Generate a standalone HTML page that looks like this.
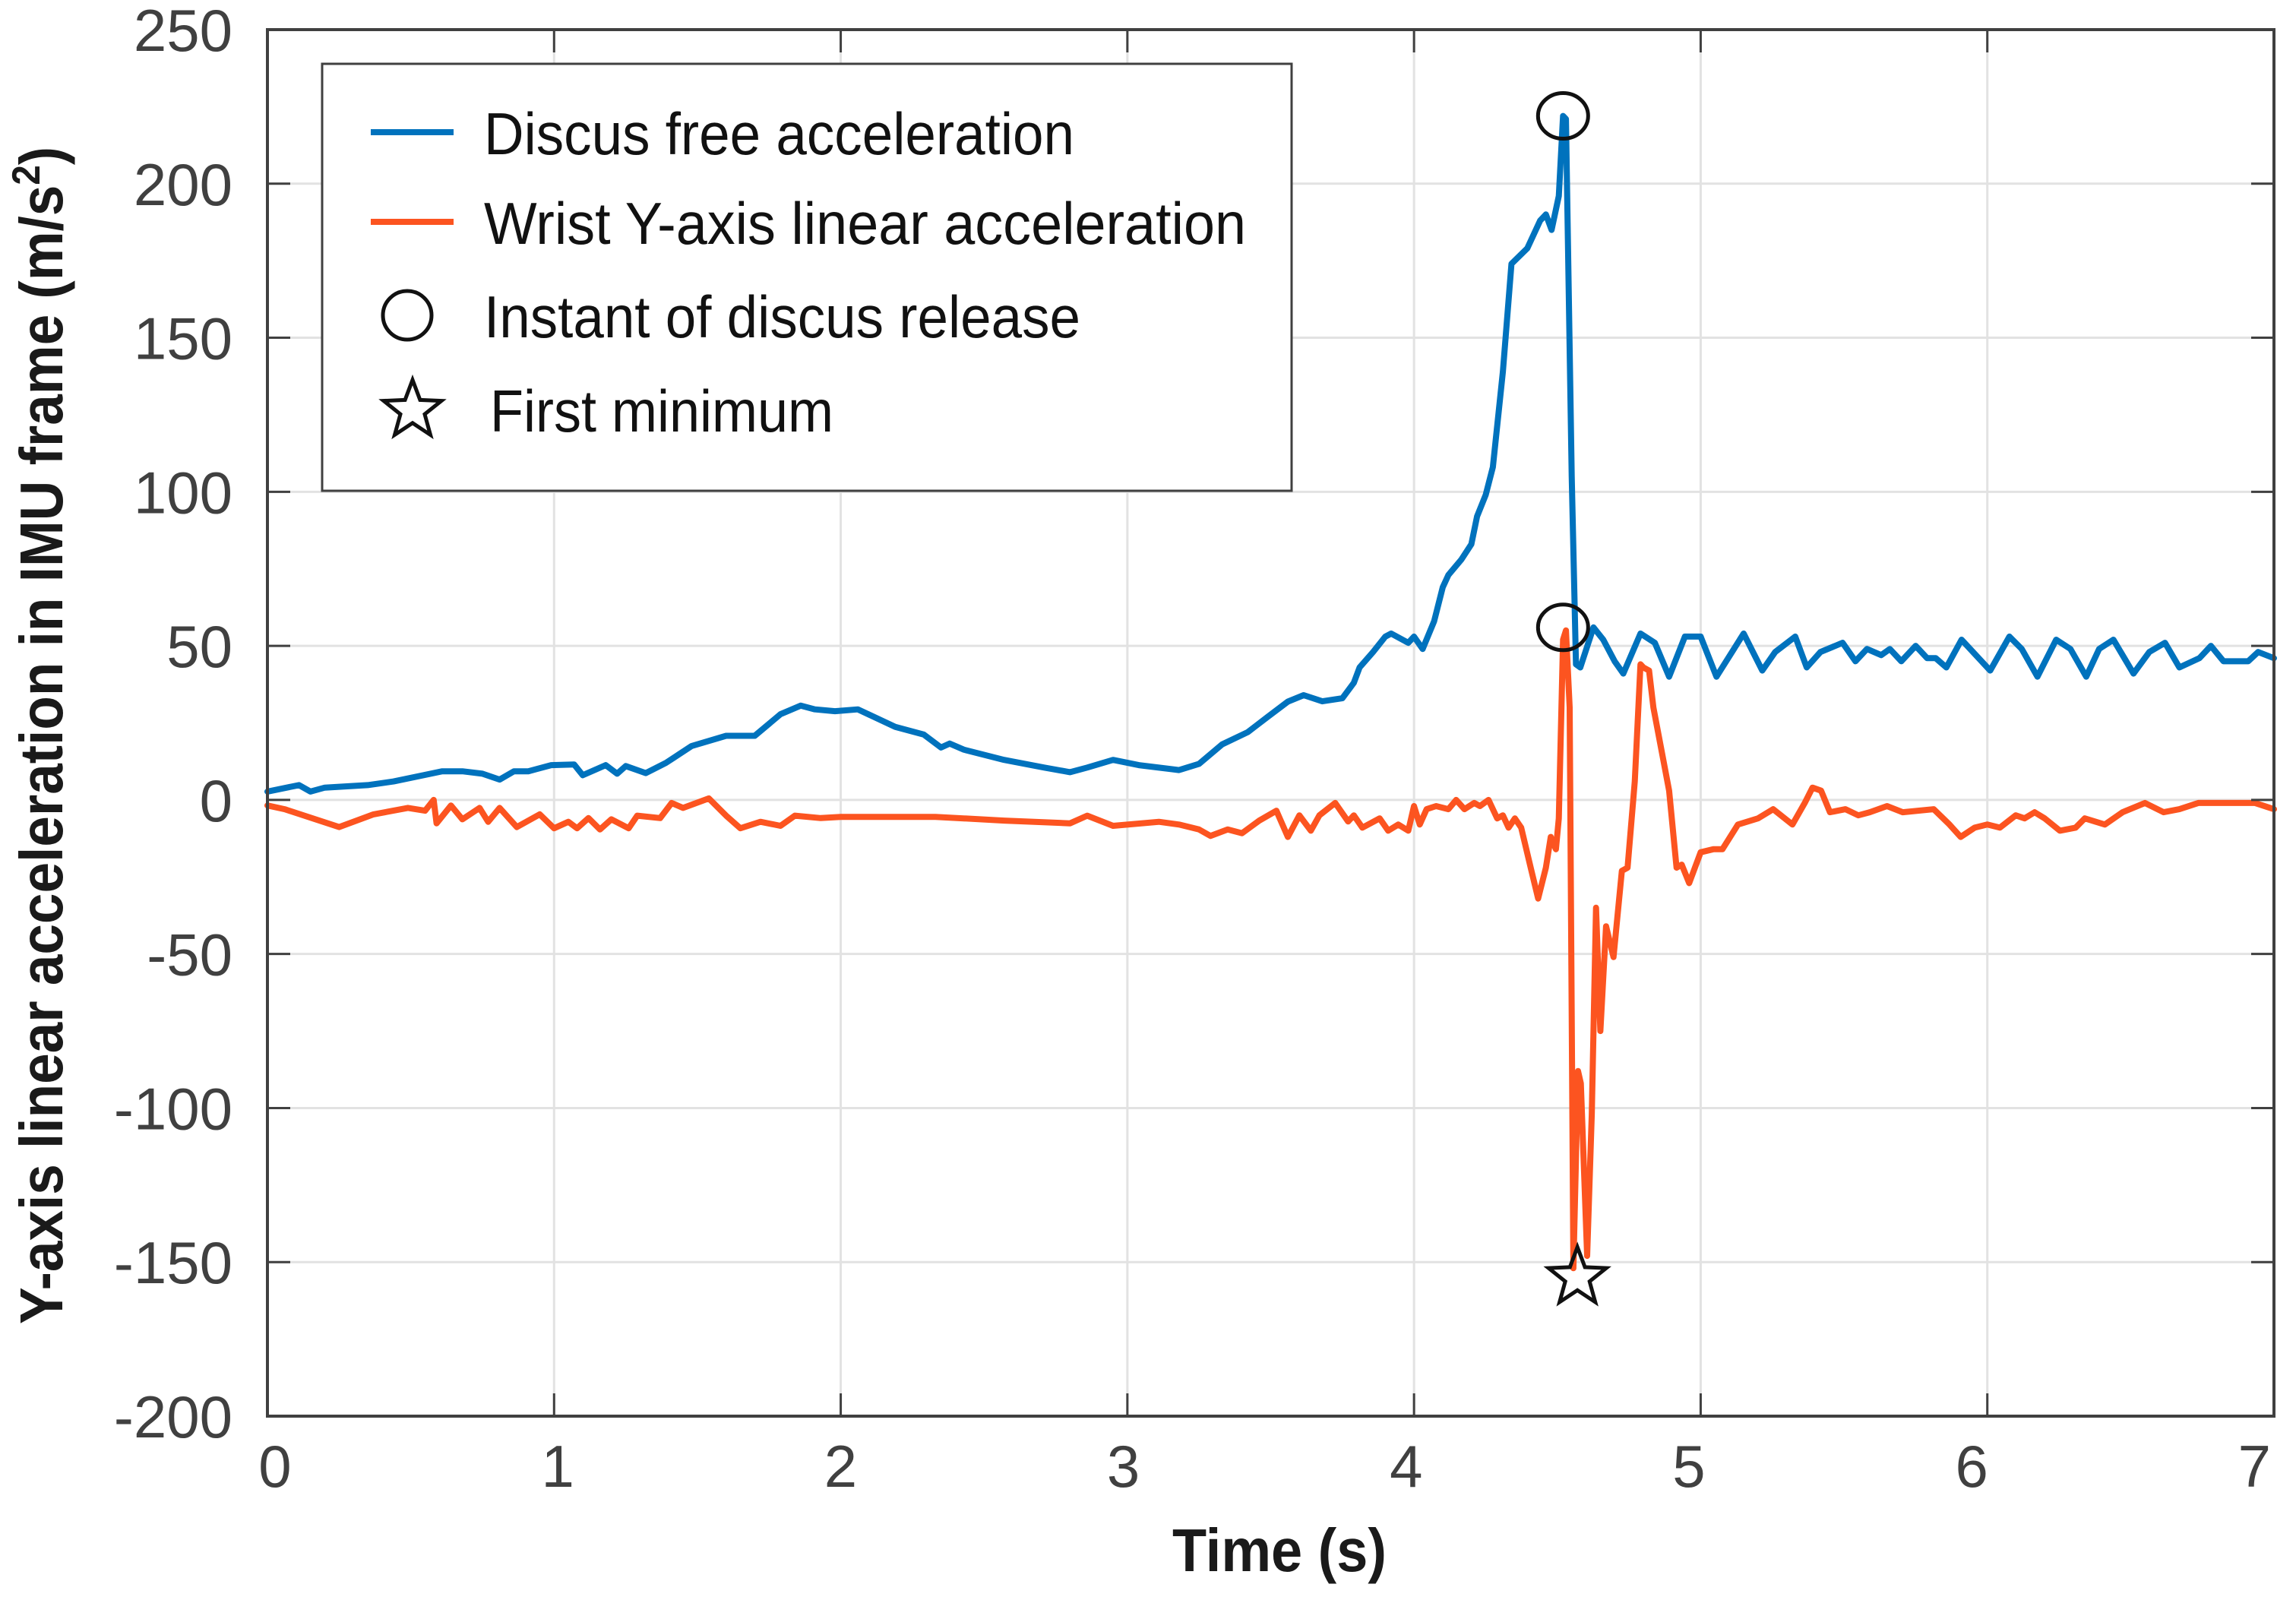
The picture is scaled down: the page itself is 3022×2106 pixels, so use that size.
<!DOCTYPE html>
<html><head><meta charset="utf-8"><style>
html,body{margin:0;padding:0;background:#fff;}
svg{display:block;font-family:"Liberation Sans",Arial,sans-serif;}
</style></head><body>
<svg id="chart" width="3022" height="2106" viewBox="0 0 3022 2106" xmlns="http://www.w3.org/2000/svg">
<rect x="0" y="0" width="3022" height="2106" fill="#fff"/>
<g id="grid"></g>
<g id="series"></g>
<g id="axes"></g>
<text x="1684" y="2068" text-anchor="middle" font-size="80" font-weight="bold" fill="#1a1a1a" textLength="282" lengthAdjust="spacingAndGlyphs">Time (s)</text>
<text transform="translate(82,968) rotate(-90)" text-anchor="middle" font-size="80" font-weight="bold" fill="#1a1a1a" textLength="1550" lengthAdjust="spacingAndGlyphs">Y-axis linear acceleration in IMU frame (m/s<tspan font-size="52" dy="-30">2</tspan><tspan dy="30">)</tspan></text>
<g id="legend">
<rect x="424" y="84" width="1276" height="562" fill="#fff" stroke="#404040" stroke-width="3"/>
<line x1="488" y1="174" x2="597" y2="174" stroke="#0072BD" stroke-width="8"/>
<text x="637" y="203" font-size="78" fill="#111" textLength="777" lengthAdjust="spacingAndGlyphs">Discus free acceleration</text>
<line x1="488" y1="292" x2="597" y2="292" stroke="#FC5420" stroke-width="8"/>
<text x="637" y="321" font-size="78" fill="#111" textLength="1003" lengthAdjust="spacingAndGlyphs">Wrist Y-axis linear acceleration</text>
<ellipse cx="536" cy="415" rx="32" ry="32" fill="none" stroke="#111" stroke-width="5"/>
<text x="637" y="444" font-size="78" fill="#111" textLength="785" lengthAdjust="spacingAndGlyphs">Instant of discus release</text>
<g id="legstar"></g>
<text x="645" y="568" font-size="78" fill="#111" textLength="452" lengthAdjust="spacingAndGlyphs">First minimum</text>
</g>
</svg>
<script>
const blueT=[0,0.11,0.15,0.2,0.35,0.44,0.61,0.68,0.75,0.81,0.86,0.91,0.99,1.07,1.1,1.18,1.22,1.25,1.32,1.39,1.48,1.6,1.7,1.79,1.86,1.91,1.98,2.06,2.19,2.29,2.35,2.38,2.43,2.57,2.71,2.8,2.86,2.95,3.04,3.18,3.25,3.33,3.42,3.49,3.56,3.615,3.68,3.75,3.79,3.81,3.857,3.9,3.92,3.98,4.0,4.03,4.07,4.1,4.12,4.165,4.2,4.22,4.25,4.275,4.31,4.34,4.395,4.44,4.46,4.48,4.505,4.52,4.53,4.55,4.565,4.58,4.626,4.66,4.7,4.73,4.79,4.84,4.89,4.945,5.0,5.055,5.15,5.215,5.26,5.33,5.37,5.418,5.495,5.54,5.58,5.63,5.66,5.7,5.75,5.79,5.82,5.857,5.91,6.01,6.077,6.12,6.175,6.24,6.29,6.345,6.39,6.44,6.51,6.565,6.62,6.67,6.74,6.78,6.824,6.868,6.91,6.945,7.0];
const blueV=[2.7,4.8,2.7,4,4.8,6,9.3,9.3,8.5,6.6,9.3,9.3,11.3,11.5,8,11.3,8.5,11,8.7,12,17.5,20.8,20.8,27.8,30.6,29.4,28.8,29.4,23.7,21.2,17,18.3,16.3,13,10.5,9,10.5,13,11.3,9.7,11.7,18,22,27,31.9,34,32,33,38,43,48,53,54,51,53,49,58,69,73,78,83,92,99,108,139,174,179,188,190,185,196,222,221,105,44,43,56,52,45,41,54,51,40,53,53,40,54,42,48,53,43,48,51,45,49,47,49,45,50,46,46,43,52,42,53,49,40,52,49,40,49,52,41,48,51,43,46,50,45,45,45,48,46];
const orangeT=[0,0.06,0.25,0.37,0.49,0.55,0.58,0.59,0.64,0.68,0.74,0.77,0.81,0.87,0.95,1.0,1.05,1.08,1.12,1.16,1.2,1.26,1.29,1.37,1.41,1.45,1.54,1.6,1.65,1.72,1.79,1.84,1.93,2.0,2.33,2.57,2.8,2.86,2.95,3.11,3.18,3.25,3.29,3.35,3.4,3.46,3.52,3.56,3.6,3.64,3.67,3.725,3.77,3.79,3.82,3.88,3.91,3.945,3.98,4.0,4.02,4.044,4.077,4.12,4.147,4.176,4.21,4.23,4.26,4.29,4.31,4.33,4.352,4.374,4.407,4.433,4.46,4.477,4.495,4.505,4.52,4.53,4.543,4.556,4.572,4.582,4.604,4.62,4.635,4.65,4.67,4.696,4.725,4.745,4.77,4.79,4.8,4.82,4.835,4.89,4.916,4.934,4.96,5.0,5.044,5.076,5.13,5.2,5.253,5.32,5.363,5.39,5.42,5.451,5.505,5.55,5.59,5.65,5.705,5.813,5.868,5.907,5.956,6.0,6.044,6.099,6.13,6.165,6.2,6.253,6.308,6.34,6.41,6.472,6.55,6.615,6.67,6.736,6.846,6.934,7.0];
const orangeV=[-1.8,-3,-8.8,-4.7,-2.6,-3.5,0,-7.6,-1.8,-6.3,-2.6,-7.1,-2.6,-8.8,-4.7,-9.2,-7.1,-9.2,-5.9,-9.6,-6.3,-9.2,-5.1,-5.9,-1,-2.6,0.5,-5.1,-9.2,-7.1,-8.4,-5.1,-5.9,-5.5,-5.5,-6.7,-7.6,-5.1,-8.4,-7.1,-8,-9.6,-11.7,-9.6,-10.8,-6.7,-3.5,-12,-5,-10,-5,-1,-7,-5,-9,-6,-10,-8,-10,-2,-8,-3,-2,-3,0,-3,-1,-2,0,-6,-5,-9,-6,-9,-22,-32,-22,-12,-16,-6,52,55,30,-152,-88,-92,-148,-102,-35,-75,-41,-51,-23,-22,6,44,43,42,30,3,-22,-21,-27,-17,-16,-16,-8,-6,-3,-8,-1,4,3,-4,-3,-5,-4,-2,-4,-3,-8,-12,-9,-8,-9,-5,-6,-4,-6,-10,-9,-6,-8,-4,-1,-4,-3,-1,-1,-1,-3];
const releaseT=[4.52,4.52];
const releaseV=[222,56];
const minimumT=[4.57];
const minimumV=[-155];
const xTicks=[0,1,2,3,4,5,6,7];
const yTicks=[250,200,150,100,50,0,-50,-100,-150,-200];

const NS='http://www.w3.org/2000/svg';
const L=352,R=2993,T=39,B=1864;
function xs(t){return L+(t-0)/(7-0)*(R-L);}
function ys(v){return B-(v+200)/(450)*(B-T);}
function mk(tag,attrs,parent){const e=document.createElementNS(NS,tag);for(const k in attrs)e.setAttribute(k,attrs[k]);parent.appendChild(e);return e;}
const grid=document.getElementById('grid'),axes=document.getElementById('axes'),series=document.getElementById('series');
xTicks.forEach(t=>{
  const g=mk('line',{x1:xs(t),x2:xs(t),y1:T,y2:B,stroke:'#e2e2e2','stroke-width':3},grid);
  
  
  const a=mk('line',{x1:xs(t),x2:xs(t),y1:B,y2:B-30,stroke:'#404040','stroke-width':3},axes);
  
  
  const b=mk('line',{x1:xs(t),x2:xs(t),y1:T,y2:T+30,stroke:'#404040','stroke-width':3},axes);
  
  
  const lx=xs(t)+10-(xs(t)-L)*0.0135;
  const lb=mk('text',{x:lx,y:1957,'text-anchor':'middle','font-size':78,fill:'#404040'},axes);
  lb.textContent=String(t);
  
  
});
yTicks.forEach(v=>{
  const g=mk('line',{x1:L,x2:R,y1:ys(v),y2:ys(v),stroke:'#e2e2e2','stroke-width':3},grid);
  
  
  const a=mk('line',{x1:L,x2:L+30,y1:ys(v),y2:ys(v),stroke:'#404040','stroke-width':3},axes);
  
  
  const b=mk('line',{x1:R,x2:R-30,y1:ys(v),y2:ys(v),stroke:'#404040','stroke-width':3},axes);
  
  
  const lb=mk('text',{x:306,y:ys(v)+28,'text-anchor':'end','font-size':78,fill:'#404040'},axes);
  lb.textContent=String(v);
  
  
});
const frame=mk('rect',{x:L,y:T,width:R-L,height:B-T,fill:'none',stroke:'#404040','stroke-width':4},axes);


function path(T_,V_,color,name){
  let d='';T_.forEach((t,i)=>{d+=(i?'L':'M')+xs(t).toFixed(1)+' '+ys(V_[i]).toFixed(1);});
  const p=mk('path',{d:d,fill:'none',stroke:color,'stroke-width':8,'stroke-linejoin':'round','stroke-linecap':'round'},series);
  
  
}
path(blueT,blueV,'#0072BD','discus-acceleration-line');
path(orangeT,orangeV,'#FC5420','wrist-acceleration-line');
releaseT.forEach((t,i)=>{
  const c=mk('ellipse',{cx:xs(t),cy:ys(releaseV[i]),rx:33,ry:30,fill:'none',stroke:'#111','stroke-width':5},series);
  
  
});
function starPts(cx,cy,r){let p=[];for(let i=0;i<10;i++){const a=-Math.PI/2+i*Math.PI/5;const rr=i%2?r*0.42:r;p.push((cx+rr*Math.cos(a)).toFixed(1)+','+(cy+rr*Math.sin(a)).toFixed(1));}return p.join(' ');}
minimumT.forEach((t,i)=>{
  const s=mk('polygon',{points:starPts(xs(t),ys(minimumV[i]),40),fill:'none',stroke:'#111','stroke-width':5},series);
  
  
});
const ls=mk('polygon',{points:starPts(543,540,40),fill:'none',stroke:'#111','stroke-width':5},document.getElementById('legstar'));


</script>
</body></html>
